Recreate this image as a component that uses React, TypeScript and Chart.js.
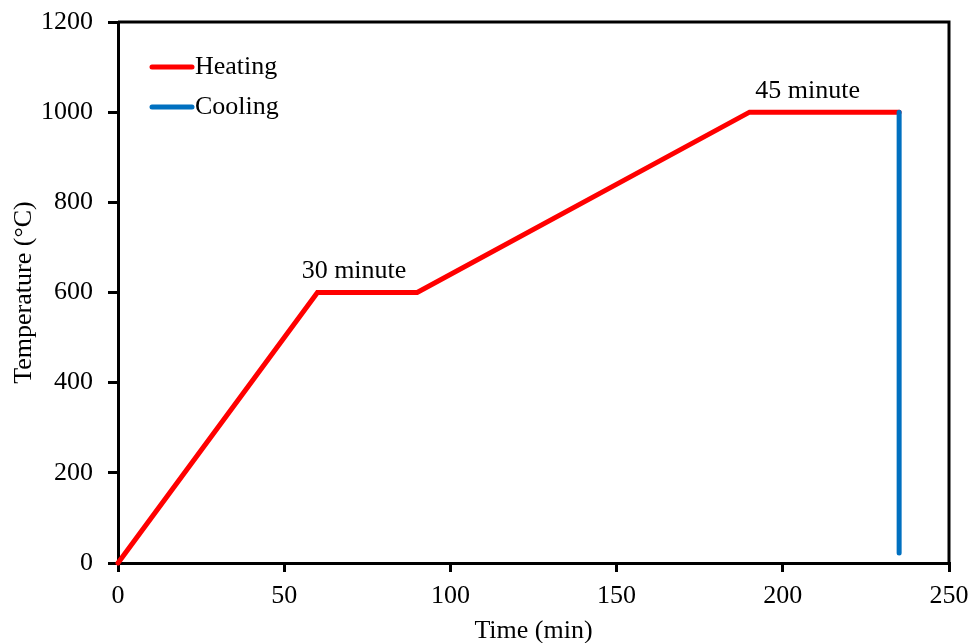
import React, { useEffect, useRef } from "react";
import { Chart, registerables } from "chart.js";

Chart.register(...registerables);

const heatingTime = [0, 60, 90, 190, 235];
const heatingTemp = [0, 600, 600, 1000, 1000];
const coolingTime = [235, 235];
const coolingTemp = [1000, 22];
const seriesLabels = ["Heating", "Cooling"];
const seriesColors = ["#FF0000", "#0070C0"];
const annotationText = ["30 minute", "45 minute"];
const annotationX = [71, 207.5];
const annotationY = [600, 1000];

const FONT = "'Liberation Serif', 'Times New Roman', serif";
const FS = 26;
const AXW = 3;

const framePlugin = {
  id: "frame",
  afterDatasetsDraw(chart: any) {
    const { ctx, chartArea } = chart;
    ctx.save();
    ctx.strokeStyle = "#000";
    ctx.lineWidth = AXW;
    ctx.beginPath();
    ctx.moveTo(chartArea.left, chartArea.top);
    ctx.lineTo(chartArea.right, chartArea.top);
    ctx.lineTo(chartArea.right, chartArea.bottom);
    ctx.stroke();
    ctx.restore();
  },
};

const annotationPlugin = {
  id: "annots",
  afterDatasetsDraw(chart: any) {
    const { ctx, scales } = chart;
    ctx.save();
    ctx.font = `${FS}px ${FONT}`;
    ctx.fillStyle = "#000";
    ctx.textAlign = "center";
    ctx.textBaseline = "middle";
    annotationText.forEach((t, i) => {
      const x = scales.x.getPixelForValue(annotationX[i]);
      const y = scales.y.getPixelForValue(annotationY[i]);
      ctx.fillText(t, x, y - 21);
    });
    ctx.restore();
  },
};

const legendPlugin = {
  id: "inlegend",
  afterDatasetsDraw(chart: any) {
    const { ctx, chartArea } = chart;
    ctx.save();
    ctx.font = `${FS}px ${FONT}`;
    ctx.textAlign = "left";
    ctx.textBaseline = "middle";
    chart.data.datasets.forEach((ds: any, i: number) => {
      const y = chartArea.top + 45 + i * 40;
      const x0 = chartArea.left + 34;
      ctx.strokeStyle = ds.borderColor;
      ctx.lineWidth = 5;
      ctx.lineCap = "round";
      ctx.beginPath();
      ctx.moveTo(x0, y);
      ctx.lineTo(x0 + 40, y);
      ctx.stroke();
      ctx.fillStyle = "#000";
      ctx.fillText(ds.label, x0 + 43, y);
    });
    ctx.restore();
  },
};

export default function App() {
  const ref = useRef<HTMLCanvasElement>(null);
  useEffect(() => {
    if (!ref.current) return;
    const chart = new Chart(ref.current, {
      type: "scatter",
      data: {
        datasets: [
          {
            label: seriesLabels[0],
            data: heatingTime.map((x, i) => ({ x, y: heatingTemp[i] })),
            borderColor: seriesColors[0],
            backgroundColor: seriesColors[0],
            showLine: true,
            borderWidth: 5,
            pointRadius: 0,
            borderJoinStyle: "miter",
            borderCapStyle: "round",
            clip: false,
            order: 1,
          } as any,
          {
            label: seriesLabels[1],
            data: coolingTime.map((x, i) => ({ x, y: coolingTemp[i] })),
            borderColor: seriesColors[1],
            backgroundColor: seriesColors[1],
            showLine: true,
            borderWidth: 5,
            pointRadius: 0,
            borderCapStyle: "round",
            clip: false,
            order: 0,
          } as any,
        ],
      },
      options: {
        responsive: false,
        animation: false,
        layout: { padding: { top: 22, right: 22, left: 0, bottom: 0 } },
        plugins: { legend: { display: false }, tooltip: { enabled: false } },
        scales: {
          x: {
            type: "linear",
            min: 0,
            max: 250,
            afterFit: (s: any) => { s.height = 80; s.paddingLeft = 0; s.paddingRight = 0; },
            ticks: { stepSize: 50, color: "#000", font: { family: FONT, size: FS }, padding: 9, maxRotation: 0, callback: (v: any) => String(v) },
            grid: { drawOnChartArea: false, drawTicks: true, tickLength: 9, color: "#000", lineWidth: AXW },
            border: { display: true, color: "#000", width: AXW },
            title: { display: true, text: "Time (min)", color: "#000", font: { family: FONT, size: FS }, padding: { top: 0, bottom: -4 } },
          },
          y: {
            type: "linear",
            min: 0,
            max: 1200,
            afterFit: (s: any) => { s.width = 118; s.paddingTop = 0; s.paddingBottom = 0; },
            ticks: { stepSize: 200, color: "#000", font: { family: FONT, size: FS }, padding: 15, callback: (v: any) => String(v) },
            grid: { drawOnChartArea: false, drawTicks: true, tickLength: 10, color: "#000", lineWidth: AXW },
            border: { display: true, color: "#000", width: AXW },
            title: { display: true, text: "Temperature (°C)", color: "#000", font: { family: FONT, size: FS }, padding: { top: 9, bottom: 0 } },
          },
        },
      },
      plugins: [framePlugin, annotationPlugin, legendPlugin],
    });
    return () => chart.destroy();
  }, []);
  return (
    <div style={{ position: "absolute", left: 0, top: 0, width: 971, height: 643, background: "#fff" }}>
      <canvas ref={ref} width={971} height={643} style={{ display: "block" }} />
    </div>
  );
}
